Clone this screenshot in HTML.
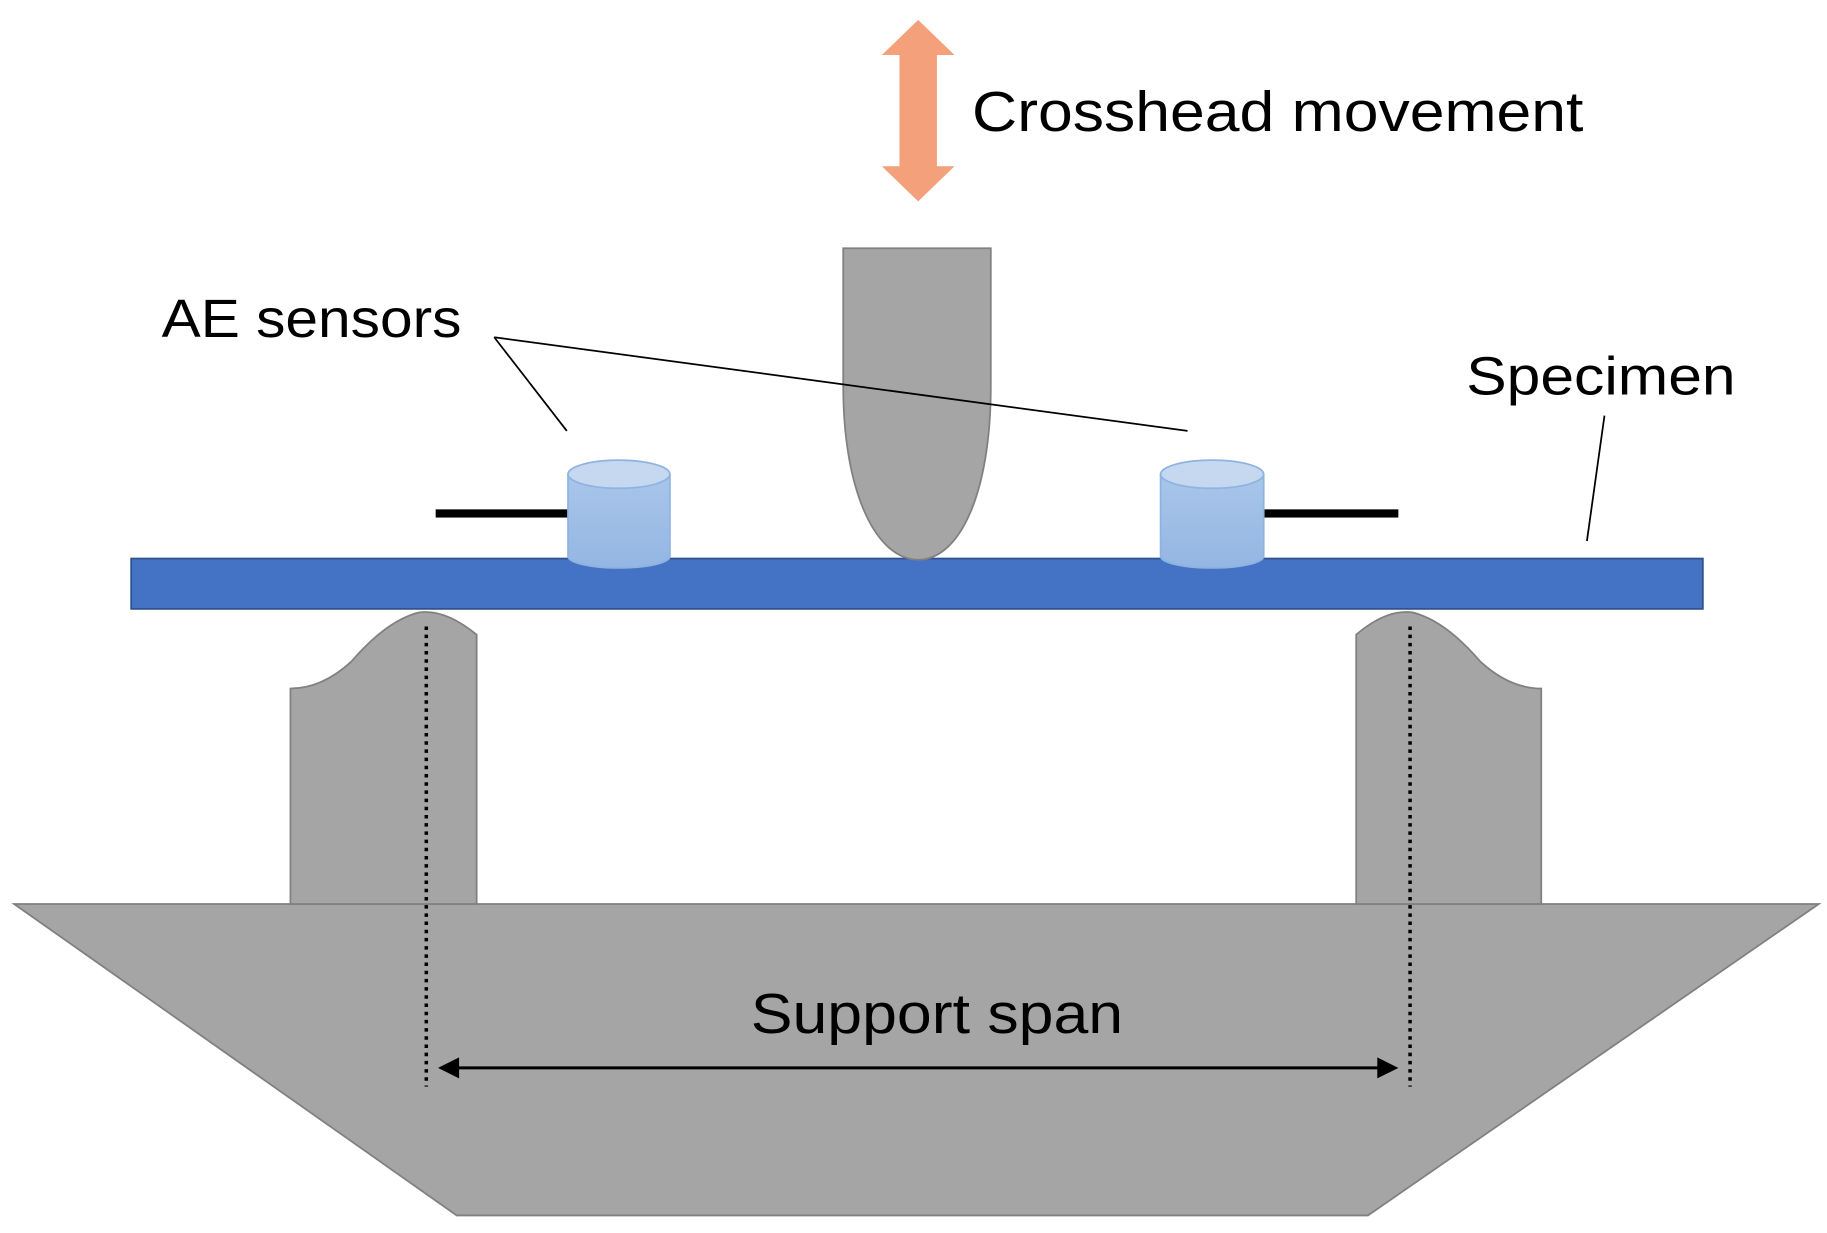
<!DOCTYPE html>
<html><head><meta charset="utf-8"><style>html,body{margin:0;padding:0;background:#fff}svg{display:block}</style></head>
<body>
<svg width="1827" height="1233" viewBox="0 0 1560 1053" preserveAspectRatio="none" xmlns="http://www.w3.org/2000/svg">
<defs>
<linearGradient id="cyl" x1="0" y1="0" x2="0" y2="1"><stop offset="0" stop-color="#a9c6ea"/><stop offset="1" stop-color="#93b6e3"/></linearGradient>
</defs>
<!-- orange double arrow -->
<polygon points="784,17 815,47 800,47 800,142 815,142 784,172 753,142 768,142 768,47 753,47" fill="#f4a07a"/>
<text x="830" y="112" font-family="Liberation Sans, sans-serif" font-size="48" textLength="522" lengthAdjust="spacingAndGlyphs" fill="#000">Crosshead movement</text>
<!-- base -->
<polygon points="12,772 1553,772 1168,1038 390,1038" fill="#a5a5a5" stroke="#808080" stroke-width="1.5"/>
<!-- supports -->
<path d="M248,772 L248,588 Q275,588 300,565 Q330,530 358,523 Q380,520 407,542 L407,772 Z" fill="#a5a5a5" stroke="#808080" stroke-width="1.5"/>
<path d="M1316,772 L1316,588 Q1289,588 1264,565 Q1234,530 1206,523 Q1184,520 1158,542 L1158,772 Z" fill="#a5a5a5" stroke="#808080" stroke-width="1.5"/>
<!-- dotted lines -->
<line x1="364" y1="535" x2="364" y2="928" stroke="#000" stroke-width="3" stroke-dasharray="3,4"/>
<line x1="1204" y1="535" x2="1204" y2="928" stroke="#000" stroke-width="3" stroke-dasharray="3,4"/>
<!-- span arrow -->
<line x1="384" y1="912" x2="1184" y2="912" stroke="#000" stroke-width="2.5"/>
<polygon points="374,912 392,903 392,921" fill="#000"/>
<polygon points="1194,912 1176,903 1176,921" fill="#000"/>
<text x="800" y="882" text-anchor="middle" font-family="Liberation Sans, sans-serif" font-size="48" textLength="318" lengthAdjust="spacingAndGlyphs" fill="#000">Support span</text>
<!-- specimen -->
<rect x="112" y="477" width="1342" height="43" fill="#4472c4" stroke="#2f528f" stroke-width="1.5"/>
<!-- indenter -->
<path d="M720,212 L846,212 L846,330 C846,420 820,478 784,478 C748,478 720,420 720,330 Z" fill="#a5a5a5" stroke="#808080" stroke-width="1.5"/>
<!-- leader lines -->
<line x1="422" y1="288" x2="484" y2="368" stroke="#000" stroke-width="1.5"/>
<line x1="422" y1="288" x2="1014" y2="368" stroke="#000" stroke-width="1.5"/>
<line x1="1370" y1="355" x2="1355" y2="462" stroke="#000" stroke-width="1.5"/>
<text x="138" y="288" font-family="Liberation Sans, sans-serif" font-size="46" textLength="256" lengthAdjust="spacingAndGlyphs" fill="#000">AE sensors</text>
<text x="1252" y="337" font-family="Liberation Sans, sans-serif" font-size="46" textLength="230" lengthAdjust="spacingAndGlyphs" fill="#000">Specimen</text>
<!-- cables -->
<rect x="372" y="435" width="116" height="7" fill="#000"/>
<rect x="1078" y="435" width="116" height="7" fill="#000"/>
<!-- sensors -->
<g stroke="#8fb3e0" stroke-width="1.5">
<path d="M485,405 L485,475 A43.5,10 0 0 0 572,475 L572,405 Z" fill="url(#cyl)"/>
<ellipse cx="528.5" cy="405" rx="43.5" ry="12" fill="#c5d8f0"/>
<path d="M991,405 L991,475 A44,10 0 0 0 1079,475 L1079,405 Z" fill="url(#cyl)"/>
<ellipse cx="1035" cy="405" rx="44" ry="12" fill="#c5d8f0"/>
</g>
</svg>
</body></html>
